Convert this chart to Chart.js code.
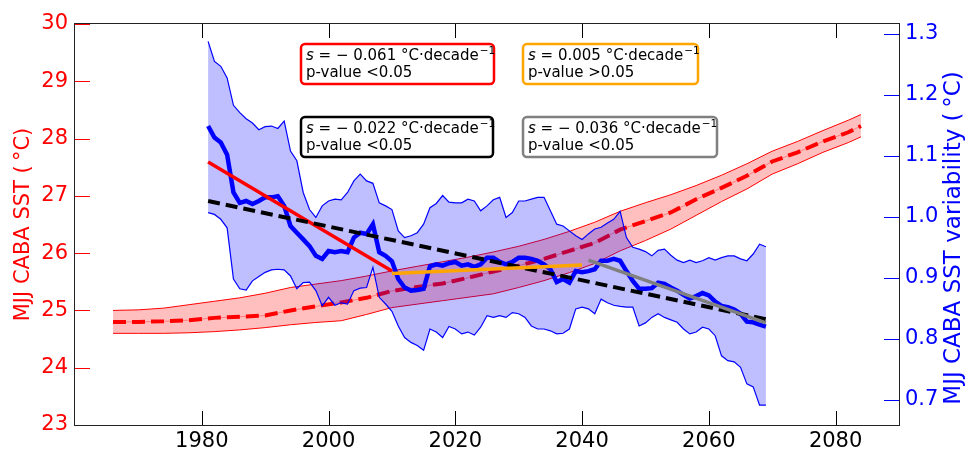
<!DOCTYPE html>
<html>
<head>
<meta charset="utf-8">
<script src="https://cdn.jsdelivr.net/npm/chart.js@4.4.0/dist/chart.umd.min.js"></script>
<style>
  body { margin: 0; background: #fff; }
</style>
</head>
<body>
<canvas id="sstchart" width="965" height="452"></canvas>
<script>
// MJJ CABA SST (left axis, red) -- ensemble mean and spread
const redYears = [1966, 1970, 1974, 1978, 1982, 1986, 1990, 1994, 1998, 2002,
    2006, 2010, 2014, 2018, 2022, 2026, 2030, 2034, 2038, 2042,
    2046, 2050, 2054, 2058, 2062, 2066, 2070, 2074, 2078, 2082, 2084];
const redMean = [24.80, 24.80, 24.81, 24.83, 24.87, 24.89, 24.91, 25.00, 25.07, 25.14,
    25.22, 25.34, 25.41, 25.47, 25.57, 25.68, 25.78, 25.90, 26.04, 26.18,
    26.41, 26.56, 26.71, 26.94, 27.14, 27.35, 27.60, 27.76, 27.95, 28.11, 28.22];
const redUpper = [25.00, 25.01, 25.04, 25.10, 25.16, 25.22, 25.30, 25.40, 25.46, 25.52,
    25.60, 25.69, 25.77, 25.85, 25.93, 26.02, 26.12, 26.24, 26.38, 26.54,
    26.73, 26.88, 27.02, 27.18, 27.36, 27.56, 27.78, 27.95, 28.14, 28.32, 28.42];
const redLower = [24.60, 24.60, 24.60, 24.61, 24.63, 24.66, 24.70, 24.75, 24.79, 24.82,
    24.93, 25.05, 25.11, 25.17, 25.23, 25.29, 25.40, 25.52, 25.66, 25.82,
    26.04, 26.22, 26.42, 26.66, 26.90, 27.12, 27.38, 27.56, 27.76, 27.93, 28.03];

// MJJ CABA SST variability (right axis, blue)
const blueYears = [1981, 1982, 1983, 1984, 1985, 1986, 1987, 1988, 1989, 1990,
    1991, 1992, 1993, 1994, 1995, 1996, 1997, 1998, 1999, 2000,
    2001, 2002, 2003, 2004, 2005, 2006, 2007, 2008, 2009, 2010,
    2011, 2012, 2013, 2014, 2015, 2016, 2017, 2018, 2019, 2020,
    2021, 2022, 2023, 2024, 2025, 2026, 2027, 2028, 2029, 2030,
    2031, 2032, 2033, 2034, 2035, 2036, 2037, 2038, 2039, 2040,
    2041, 2042, 2043, 2044, 2045, 2046, 2047, 2048, 2049, 2050,
    2051, 2052, 2053, 2054, 2055, 2056, 2057, 2058, 2059, 2060,
    2061, 2062, 2063, 2064, 2065, 2066, 2067, 2068, 2069];
const blueMean = [1.149, 1.130, 1.122, 1.102, 1.040, 1.023, 1.026, 1.021, 1.026, 1.032,
    1.032, 1.034, 1.018, 0.985, 0.974, 0.963, 0.952, 0.936, 0.931, 0.944,
    0.942, 0.944, 0.942, 0.966, 0.974, 0.972, 0.988, 0.942, 0.936, 0.927,
    0.898, 0.884, 0.879, 0.880, 0.882, 0.919, 0.922, 0.920, 0.924, 0.926,
    0.920, 0.922, 0.918, 0.922, 0.933, 0.933, 0.926, 0.922, 0.926, 0.933,
    0.933, 0.931, 0.928, 0.922, 0.914, 0.893, 0.898, 0.892, 0.911, 0.909,
    0.911, 0.914, 0.928, 0.928, 0.931, 0.928, 0.911, 0.895, 0.882, 0.882,
    0.883, 0.892, 0.890, 0.884, 0.879, 0.872, 0.866, 0.870, 0.875, 0.871,
    0.861, 0.854, 0.852, 0.848, 0.841, 0.828, 0.827, 0.823, 0.820];
const blueUpper = [1.288, 1.255, 1.247, 1.228, 1.183, 1.171, 1.161, 1.154, 1.143, 1.148,
    1.149, 1.145, 1.157, 1.108, 1.092, 1.040, 1.012, 0.999, 1.018, 1.026,
    1.029, 1.028, 1.040, 1.059, 1.070, 1.059, 1.055, 1.023, 1.018, 1.012,
    0.977, 0.966, 0.969, 0.974, 0.988, 1.015, 1.022, 1.035, 1.024, 1.023,
    1.023, 1.029, 1.026, 1.010, 1.018, 1.028, 1.032, 0.999, 1.007, 1.026,
    1.026, 1.029, 1.032, 1.032, 1.010, 0.988, 0.985, 0.977, 0.969, 0.963,
    0.972, 0.980, 0.983, 0.990, 0.996, 1.009, 0.966, 0.950, 0.947, 0.943,
    0.936, 0.945, 0.947, 0.937, 0.929, 0.925, 0.929, 0.925, 0.928, 0.933,
    0.929, 0.933, 0.936, 0.936, 0.931, 0.928, 0.939, 0.955, 0.951];
const blueLower = [1.007, 1.004, 0.996, 0.982, 0.898, 0.882, 0.880, 0.895, 0.902, 0.909,
    0.913, 0.914, 0.913, 0.903, 0.882, 0.892, 0.893, 0.879, 0.854, 0.868,
    0.855, 0.859, 0.857, 0.879, 0.883, 0.884, 0.917, 0.868, 0.857, 0.845,
    0.821, 0.802, 0.794, 0.789, 0.781, 0.816, 0.811, 0.802, 0.820, 0.816,
    0.808, 0.811, 0.806, 0.819, 0.838, 0.835, 0.838, 0.835, 0.843, 0.841,
    0.835, 0.821, 0.816, 0.816, 0.813, 0.808, 0.809, 0.816, 0.849, 0.852,
    0.849, 0.841, 0.865, 0.859, 0.855, 0.853, 0.852, 0.852, 0.821, 0.826,
    0.835, 0.841, 0.835, 0.831, 0.827, 0.816, 0.808, 0.811, 0.819, 0.816,
    0.805, 0.772, 0.764, 0.762, 0.753, 0.726, 0.721, 0.691, 0.691];

// linear trends of the variability (start/end year and value)
const trendRedYears = [1981, 2010];
const trendRed = [1.090, 0.911];
const trendBlackYears = [1981, 2069];
const trendBlack = [1.026, 0.832];
const trendOrangeYears = [2010, 2040];
const trendOrange = [0.907, 0.921];
const trendGrayYears = [2041, 2069];
const trendGray = [0.929, 0.826];

// annotation texts
const slopeText = ["= \u2212 0.061 \u00b0C\u00b7decade", "= 0.005 \u00b0C\u00b7decade",
    "= \u2212 0.022 \u00b0C\u00b7decade", "= \u2212 0.036 \u00b0C\u00b7decade"];
const pText = ["p-value <0.05", "p-value >0.05", "p-value <0.05", "p-value <0.05"];

// tick labels
const xTicks = [1980, 2000, 2020, 2040, 2060, 2080];
const leftTicks = [23, 24, 25, 26, 27, 28, 29, 30];
const rightTicks = [0.7, 0.8, 0.9, 1.0, 1.1, 1.2, 1.3];

const FONT = "'DejaVu Sans', sans-serif";
const pts = (xs, ys) => xs.map((x, i) => ({ x: x, y: ys[i] }));

function line(data, axis, color, width, order, extra) {
    return Object.assign({
        data: data,
        yAxisID: axis,
        borderColor: color,
        borderWidth: width,
        pointRadius: 0,
        tension: 0,
        fill: false,
        order: order
    }, extra || {});
}

const datasets = [
    line(pts(redYears, redUpper), "yL", "#ff0000", 1, 10,
        { fill: "+1", backgroundColor: "rgba(255,0,0,0.25)" }),
    line(pts(redYears, redLower), "yL", "#ff0000", 1, 10),
    line(pts(redYears, redMean), "yL", "rgba(255,0,0,0.35)", 1, 9),
    line(pts(redYears, redMean), "yL", "#ff0000", 4, 8, { borderDash: [13, 6] }),
    line(pts(blueYears, blueUpper), "yR", "#0000ff", 1.2, 7,
        { fill: "+1", backgroundColor: "rgba(0,0,255,0.25)" }),
    line(pts(blueYears, blueLower), "yR", "#0000ff", 1.2, 7),
    line(pts(blueYears, blueMean), "yR", "#0000ff", 4.5, 6),
    line(pts(trendRedYears, trendRed), "yR", "#ff0000", 3.5, 4),
    line(pts(trendBlackYears, trendBlack), "yR", "#000000", 4, 3, { borderDash: [12, 6] }),
    line(pts(trendOrangeYears, trendOrange), "yR", "#ffa500", 3.5, 2),
    line(pts(trendGrayYears, trendGray), "yR", "#808080", 3.5, 1)
];

// boxes: x, y, w, h, colour
const boxLayout = [
    [301, 44, 193, 40, "#ff0000"],
    [523, 44, 175, 40, "#ffa500"],
    [301, 117, 192, 40, "#000000"],
    [523, 117, 194, 40, "#808080"]
];

const decor = {
    id: "decor",
    afterDraw(chart) {
        const ctx = chart.ctx;
        const a = chart.chartArea;
        const sx = chart.scales.x, sl = chart.scales.yL, sr = chart.scales.yR;
        ctx.save();
        // inward ticks
        ctx.lineWidth = 1;
        ctx.strokeStyle = "#000";
        xTicks.forEach(v => {
            const px = Math.round(sx.getPixelForValue(v)) + 0.5;
            ctx.beginPath();
            ctx.moveTo(px, a.bottom); ctx.lineTo(px, a.bottom - 14);
            ctx.moveTo(px, a.top); ctx.lineTo(px, a.top + 14);
            ctx.stroke();
        });
        ctx.strokeStyle = "#ff0000";
        leftTicks.forEach(v => {
            const py = Math.round(sl.getPixelForValue(v)) + 0.5;
            ctx.beginPath();
            ctx.moveTo(a.left, py); ctx.lineTo(a.left + 15, py);
            ctx.stroke();
        });
        ctx.strokeStyle = "#0000ff";
        rightTicks.forEach(v => {
            const py = Math.round(sr.getPixelForValue(v)) + 0.5;
            ctx.beginPath();
            ctx.moveTo(a.right, py); ctx.lineTo(a.right - 15, py);
            ctx.stroke();
        });
        // frame
        ctx.strokeStyle = "#222";
        ctx.strokeRect(a.left - 0.5, a.top - 0.5, a.right - a.left + 1, a.bottom - a.top + 1);

        // axis titles
        ctx.textAlign = "center";
        ctx.textBaseline = "alphabetic";
        ctx.fillStyle = "#ff0000";
        ctx.font = "21px " + FONT;
        ctx.translate(29, (a.top + a.bottom) / 2);
        ctx.rotate(-Math.PI / 2);
        ctx.fillText("MJJ CABA SST (\u2009\u00b0C)", 0, 0);
        ctx.setTransform(1, 0, 0, 1, 0, 0);
        ctx.fillStyle = "#0000ff";
        ctx.font = "23px " + FONT;
        ctx.translate(960, 238);
        ctx.rotate(-Math.PI / 2);
        ctx.fillText("MJJ CABA SST variability (\u2009\u00b0C)", 0, 0);
        ctx.setTransform(1, 0, 0, 1, 0, 0);

        // slope boxes
        ctx.textAlign = "left";
        boxLayout.forEach((b, i) => {
            const [bx, by, bw, bh, col] = b;
            ctx.fillStyle = "#fff";
            ctx.strokeStyle = col;
            ctx.lineWidth = 2.5;
            ctx.beginPath();
            ctx.roundRect(bx, by, bw, bh, 4);
            ctx.fill();
            ctx.stroke();
            ctx.fillStyle = "#000";
            let tx = bx + 5;
            ctx.font = "italic 15px " + FONT;
            ctx.fillText("s", tx, by + 16);
            tx += ctx.measureText("s ").width;
            ctx.font = "15px " + FONT;
            ctx.fillText(slopeText[i], tx, by + 16);
            tx += ctx.measureText(slopeText[i]).width;
            ctx.font = "10.5px " + FONT;
            ctx.fillText("\u22121", tx + 1, by + 10);
            ctx.font = "15px " + FONT;
            ctx.fillText(pText[i], bx + 5, by + 33);
        });
        ctx.restore();
    }
};

const tickFont = { family: FONT, size: 21 };

new Chart("sstchart", {
    type: "line",
    data: { datasets: datasets },
    options: {
        responsive: false,
        animation: false,
        devicePixelRatio: 1,
        layout: { padding: { top: 24, left: 0, right: 0, bottom: 0 } },
        plugins: { legend: { display: false }, tooltip: { enabled: false } },
        scales: {
            x: {
                type: "linear",
                min: 1960,
                max: 2090,
                grid: { display: false, drawTicks: false },
                border: { display: false },
                afterBuildTicks: s => { s.ticks = xTicks.map(v => ({ value: v })); },
                afterFit: s => { s.height = 27; },
                ticks: { color: "#000", font: tickFont, padding: 4, maxRotation: 0,
                    callback: v => String(v) }
            },
            yL: {
                type: "linear",
                position: "left",
                min: 23,
                max: 30,
                grid: { display: false, drawTicks: false },
                border: { display: false },
                afterBuildTicks: s => { s.ticks = leftTicks.map(v => ({ value: v })); },
                afterFit: s => { s.width = 75; },
                ticks: { color: "#ff0000", font: tickFont, padding: 7,
                    callback: v => String(v) }
            },
            yR: {
                type: "linear",
                position: "right",
                min: 0.6585,
                max: 1.3164,
                grid: { display: false, drawTicks: false },
                border: { display: false },
                afterBuildTicks: s => { s.ticks = rightTicks.map(v => ({ value: v })); },
                afterFit: s => { s.width = 66; },
                ticks: { color: "#0000ff", font: tickFont, padding: 6,
                    callback: v => v.toFixed(1) }
            }
        }
    },
    plugins: [decor]
});
</script>
</body>
</html>
